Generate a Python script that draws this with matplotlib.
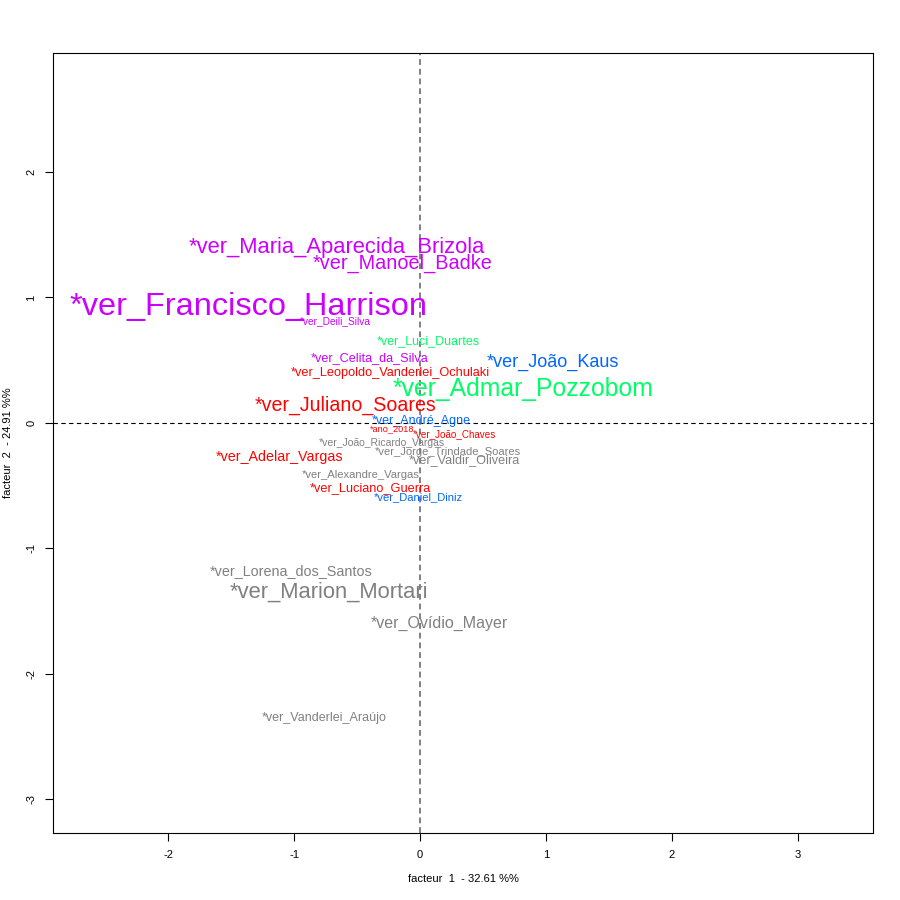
import matplotlib
matplotlib.use('Agg')
import matplotlib.pyplot as plt

plt.rcParams['font.family'] = ['Liberation Sans', 'DejaVu Sans']
plt.rcParams['axes.unicode_minus'] = False

# R rainbow(5) class colours plus grey for the rest
red, green, blue, mag, grey = '#FF0000', '#00FF66', '#0066FF', '#CC00FF', '#808080'

labels = ['*ver_Maria_Aparecida_Brizola', '*ver_Manoel_Badke', '*ver_Francisco_Harrison',
          '*ver_Deili_Silva', '*ver_Luci_Duartes', '*ver_João_Kaus', '*ver_Celita_da_Silva',
          '*ver_Leopoldo_Vanderlei_Ochulaki', '*ver_Admar_Pozzobom', '*ver_Juliano_Soares',
          '*ver_André_Agne', '*ano_2018', '*ver_João_Chaves', '*ver_João_Ricardo_Vargas',
          '*ver_Jorge_Trindade_Soares', '*ver_Valdir_Oliveira', '*ver_Adelar_Vargas',
          '*ver_Alexandre_Vargas', '*ver_Luciano_Guerra', '*ver_Daniel_Diniz',
          '*ver_Lorena_dos_Santos', '*ver_Marion_Mortari', '*ver_Ovídio_Mayer',
          '*ver_Vanderlei_Araújo']
f1 = [-0.659, -0.135, -1.365, -0.675, 0.063, 1.056, -0.397, -0.238, 0.817, -0.595,
      0.008, -0.222, 0.270, -0.302, 0.222, 0.349, -1.119, -0.468, -0.397, -0.016,
      -1.024, -0.722, 0.151, -0.762]
f2 = [1.418, 1.291, 0.956, 0.821, 0.661, 0.502, 0.526, 0.414, 0.287, 0.159,
      0.024, -0.040, -0.080, -0.151, -0.223, -0.287, -0.263, -0.406, -0.510, -0.582,
      -1.171, -1.331, -1.586, -2.335]
# relative label weight (cex), in points
cex = [15.8, 14.3, 23.4, 7.3, 9.0, 13.0, 9.1, 9.2, 17.8, 14.1,
       9.0, 6.6, 7.1, 7.5, 8.0, 9.1, 10.3, 8.1, 9.2, 8.0,
       10.4, 15.8, 11.5, 9.0]
classe = [mag, mag, mag, mag, green, blue, mag, red, green, red,
          blue, red, red, grey, grey, grey, red, grey, red, blue,
          grey, grey, grey, grey]

fig = plt.figure(figsize=(9, 9), dpi=100)
ax = fig.add_axes([53/900, 67/900, 820/900, 780/900])

for lab, x, y, s, c in zip(labels, f1, f2, cex, classe):
    ax.text(x, y, lab, fontsize=s, color=c, ha='center', va='center_baseline')

ax.axhline(0, color='black', ls=(0, (4, 3)), lw=0.8)
ax.axvline(0, color='grey', ls=(0, (3, 2)), lw=1.4)

ax.set_xlim(-2.913, 3.595)
ax.set_ylim(-3.267, 2.948)
ax.set_xticks([-2, -1, 0, 1, 2, 3])
ax.set_yticks([-3, -2, -1, 0, 1, 2])
ax.tick_params(direction='out', length=6, labelsize=8, pad=6)
for t in ax.get_yticklabels():
    t.set_rotation(90)
    t.set_va('center')
for sp in ax.spines.values():
    sp.set_linewidth(0.8)

ax.set_xlabel('facteur  1  - 32.61 %%', fontsize=8, va='center')
ax.set_ylabel('facteur  2  - 24.91 %%', fontsize=8, va='center')
ax.xaxis.set_label_coords(0.5, -46/780)
ax.yaxis.set_label_coords(-45/820, 0.5)

plt.savefig('out.png', dpi=100)
